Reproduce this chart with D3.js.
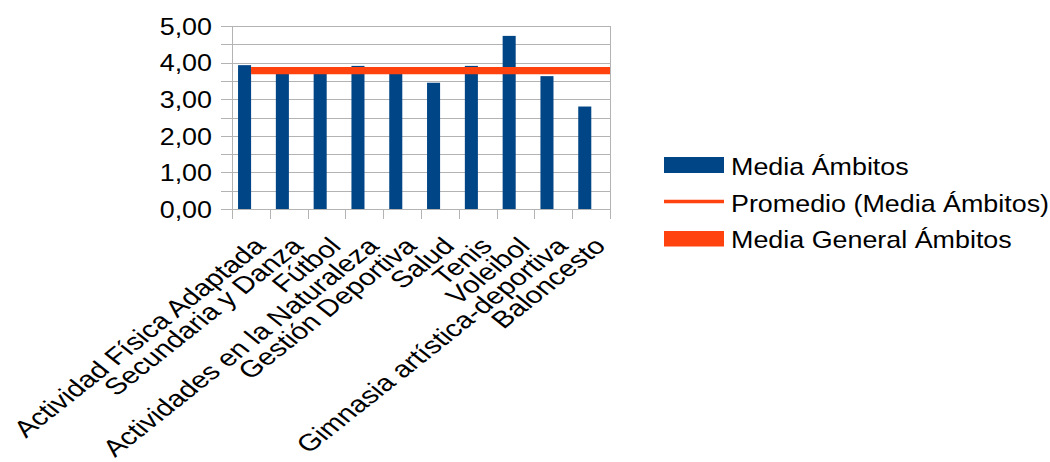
<!DOCTYPE html>
<html>
<head>
<meta charset="utf-8">
<script src="https://cdn.jsdelivr.net/npm/d3@7"></script>
<style>
  html, body { margin: 0; padding: 0; background: #ffffff; }
  svg { display: block; }
  text { font-family: "Liberation Sans", Arial, sans-serif; fill: #000; }
</style>
</head>
<body>
<div id="chart"></div>
<script>
// ---- data ----
const categories = [
  "Actividad Física Adaptada",
  "Secundaria y Danza",
  "Fútbol",
  "Actividades en la Naturaleza",
  "Gestión Deportiva",
  "Salud",
  "Tenis",
  "Voleibol",
  "Gimnasia artística-deportiva",
  "Baloncesto"
];
const mediaAmbitos = [3.93, 3.80, 3.78, 3.91, 3.82, 3.45, 3.91, 4.73, 3.63, 2.80];
const promedioMedia = 3.78;        // Promedio (Media Ámbitos)
const mediaGeneral = 3.78;         // Media General Ámbitos
const yTickValues = [0, 1, 2, 3, 4, 5];
const yTickLabels = ["0,00", "1,00", "2,00", "3,00", "4,00", "5,00"];
const legendLabels = ["Media Ámbitos", "Promedio (Media Ámbitos)", "Media General Ámbitos"];

// ---- layout / style ----
const W = 1050, H = 462;
const plot = { left: 232, right: 610, top: 26, bottom: 209 };
const blue = "#004586", orange = "#ff420e", grid = "#b3b3b3";
const fs = 24, sx = 1.12;
const labFs = 23.5, labSx = 1.26;

const svg = d3.select("#chart").append("svg")
  .attr("width", W).attr("height", H);

const x = d3.scaleBand().domain(categories).range([plot.left, plot.right]).padding(0);
const y = d3.scaleLinear().domain([0, 5]).range([plot.bottom, plot.top]);

const bw = x.bandwidth();
const barOff = bw * 0.16, barW = bw * 0.345;

// grid lines every 0.5 (with outer tick marks)
const gridVals = y.ticks(10);
svg.append("g").selectAll("line").data(gridVals).join("line")
  .attr("x1", plot.left - 11).attr("x2", plot.right)
  .attr("y1", d => Math.round(y(d)) + 0.5).attr("y2", d => Math.round(y(d)) + 0.5)
  .attr("stroke", grid).attr("stroke-width", 1);

// plot frame verticals
svg.append("g").selectAll("line").data([plot.left, plot.right]).join("line")
  .attr("x1", d => d + 0.5).attr("x2", d => d + 0.5)
  .attr("y1", plot.top).attr("y2", plot.bottom + 0.5)
  .attr("stroke", grid).attr("stroke-width", 1);

// category ticks
const bounds = categories.map(c => x(c)).concat([plot.right]);
svg.append("g").selectAll("line").data(bounds).join("line")
  .attr("x1", d => Math.round(d) + 0.5).attr("x2", d => Math.round(d) + 0.5)
  .attr("y1", plot.bottom).attr("y2", plot.bottom + 10)
  .attr("stroke", grid).attr("stroke-width", 1);

// y labels
svg.append("g").selectAll("text").data(yTickValues).join("text")
  .attr("transform", d => `translate(212,${y(d) + 8.8}) scale(${sx},1)`)
  .attr("text-anchor", "end")
  .style("font-size", fs + "px")
  .text((d, i) => yTickLabels[i]);

// bars
svg.append("g").selectAll("rect").data(mediaAmbitos).join("rect")
  .attr("x", (d, i) => x(categories[i]) + barOff)
  .attr("width", barW)
  .attr("y", d => y(d))
  .attr("height", d => y(0) - y(d))
  .attr("fill", blue);

// average lines
const lineX0 = x(categories[0]) + barOff + barW;
svg.append("line")
  .attr("x1", lineX0).attr("x2", plot.right)
  .attr("y1", y(promedioMedia)).attr("y2", y(promedioMedia))
  .attr("stroke", orange).attr("stroke-width", 3);
svg.append("line")
  .attr("x1", lineX0).attr("x2", plot.right)
  .attr("y1", y(mediaGeneral)).attr("y2", y(mediaGeneral))
  .attr("stroke", orange).attr("stroke-width", 7.3);

// x labels (rotated)
svg.append("g").selectAll("text").data(categories).join("text")
  .attr("transform", d => `translate(${x(d) + bw / 2 + 16},247.5) scale(${labSx},1) rotate(-45)`)
  .attr("text-anchor", "end")
  .style("font-size", labFs + "px")
  .text(d => d);

// legend
const lg = svg.append("g");
const rowY = i => 175 + i * 36.6;
lg.append("rect").attr("x", 664).attr("y", 157).attr("width", 60).attr("height", 16).attr("fill", blue);
lg.append("line").attr("x1", 664).attr("x2", 724).attr("y1", 201.5).attr("y2", 201.5)
  .attr("stroke", orange).attr("stroke-width", 3.5);
lg.append("rect").attr("x", 664).attr("y", 231).attr("width", 60).attr("height", 15.5).attr("fill", orange);
lg.selectAll("text").data(legendLabels).join("text")
  .attr("transform", (d, i) => `translate(731,${rowY(i)}) scale(${sx},1)`)
  .style("font-size", fs + "px")
  .text(d => d);
</script>
</body>
</html>
